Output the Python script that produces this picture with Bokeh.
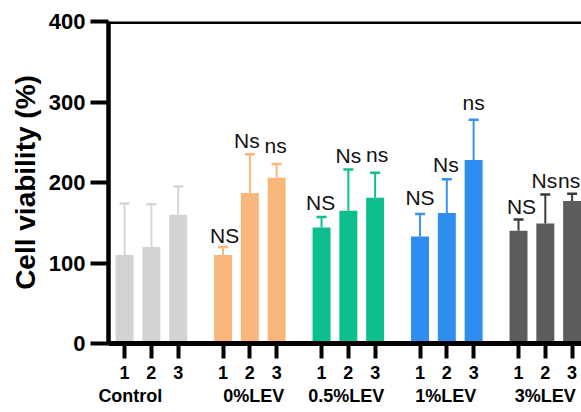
from bokeh.plotting import figure
from bokeh.models import Range1d, FixedTicker, LinearAxis, Span, ColumnDataSource, CustomJSTickFormatter
from bokeh.core.properties import value
from bokeh.embed import file_html
from bokeh.resources import INLINE

# ---- data ----
groups = ["Control", "0%LEV", "0.5%LEV", "1%LEV", "3%LEV"]
bar_names = ["1", "2", "3"]
control_mean = [110, 120, 160]
lev0_mean = [110, 187, 206]
lev05_mean = [144, 165, 181]
lev1_mean = [133, 162, 228]
lev3_mean = [140, 149, 177]
control_sd = [64, 53, 35]
lev0_sd = [10, 48, 17]
lev05_sd = [13, 51, 31]
lev1_sd = [28, 42, 50]
lev3_sd = [14, 36, 9]
control_sig = ["", "", ""]
lev0_sig = ["NS", "Ns", "ns"]
lev05_sig = ["NS", "Ns", "ns"]
lev1_sig = ["NS", "Ns", "ns"]
lev3_sig = ["NS", "Ns", "ns"]
y_ticks = [0, 100, 200, 300, 400]

means = [control_mean, lev0_mean, lev05_mean, lev1_mean, lev3_mean]
sds = [control_sd, lev0_sd, lev05_sd, lev1_sd, lev3_sd]
sigs = [control_sig, lev0_sig, lev05_sig, lev1_sig, lev3_sig]

# ---- styles ----
bar_colors = ["#D3D3D3", "#F9B77C", "#0BC08D", "#2E8DEF", "#5C5C5C"]
err_colors = ["#D6D6D6", "#F9B77C", "#0BC08D", "#3A93EF", "#3A3A3A"]
group_label_shift_px = [-21, 4, -2, -1, 0]   # px nudges of the group names
sig_dx_px = [[0, 0, 0], [1.5, -3, -1], [-1, 0, 2], [0, -1, 0], [3, -1, -3]]
sig_gap_px = [[0, 0, 0], [6, 9, 13], [10, 9, 13], [11, 10, 12], [8, 9, 8]]
FONT = "Liberation Sans"
GROUP_STEP = 3.675
X_START, X_END = -0.6, 17.05
PLOT_W, LEFT = 581, 108
PX_PER_UNIT = (PLOT_W - LEFT) / (X_END - X_START)

xs, tops, uppers, fills, ecols, texts, tick_labels, dxs, dys = [], [], [], [], [], [], [], [], []
for g in range(len(groups)):
    for j in range(3):
        xs.append(g * GROUP_STEP + j)
        tops.append(means[g][j])
        uppers.append(means[g][j] + sds[g][j])
        fills.append(bar_colors[g])
        ecols.append(err_colors[g])
        texts.append(sigs[g][j])
        tick_labels.append(bar_names[j])
        dxs.append(sig_dx_px[g][j])
        dys.append(-(sig_gap_px[g][j] + 5))
group_anchor = [g * GROUP_STEP + 1 + group_label_shift_px[g] / PX_PER_UNIT for g in range(len(groups))]

src = ColumnDataSource(dict(x=xs, top=tops, upper=uppers, fill=fills, ecol=ecols, sig=texts, dx=dxs, dy=dys))

p = figure(width=PLOT_W, height=412, output_backend="svg", toolbar_location=None,
           x_range=Range1d(X_START, X_END), y_range=Range1d(0, 400),
           min_border_left=LEFT, min_border_top=21, min_border_bottom=69, min_border_right=0,
           x_axis_location=None)
p.outline_line_color = None
p.xgrid.visible = False
p.ygrid.visible = False
p.background_fill_color = "white"
p.border_fill_color = "white"

# error bars (behind bars)
p.segment(x0="x", y0="top", x1="x", y1="upper", source=src, line_color="ecol", line_width=2)
p.scatter(x="x", y="upper", source=src, marker="dash", size=10, line_color="ecol", line_width=2.5)
p.vbar(x="x", top="top", bottom=0, width=0.67, source=src, fill_color="fill", line_color=None)

p.text(x="x", y="upper", text="sig", source=src, text_font=value(FONT), text_font_size="21px",
       text_align="center", text_baseline="alphabetic", x_offset="dx", y_offset="dy",
       text_color="#111111")

# top line
p.add_layout(Span(location=400, dimension="width", line_color="black", line_width=5))

# y axis
ya = p.yaxis[0]
ya.ticker = FixedTicker(ticks=y_ticks)
ya.axis_label = "Cell viability (%)"
ya.axis_label_text_font = FONT
ya.axis_label_text_font_size = "28px"
ya.axis_label_text_font_style = "bold"
ya.axis_label_text_color = "black"
ya.axis_label_standoff = 5
ya.major_label_text_font = FONT
ya.major_label_text_font_size = "22px"
ya.major_label_text_font_style = "bold"
ya.major_label_text_color = "black"
ya.major_label_standoff = 5
ya.axis_line_width = 4.5
ya.major_tick_line_width = 4
ya.major_tick_out = 18
ya.major_tick_in = 0
ya.minor_tick_line_color = None
ya.axis_line_color = "black"

# x axis with bar numbers
xa = LinearAxis(ticker=FixedTicker(ticks=xs),
                formatter=CustomJSTickFormatter(args=dict(labels=tick_labels), code="return labels[index];"))
xa.major_label_text_font = FONT
xa.major_label_text_font_size = "18px"
xa.major_label_text_font_style = "bold"
xa.major_label_text_color = "black"
xa.major_label_standoff = 7
xa.axis_line_width = 5
xa.major_tick_line_width = 4
xa.major_tick_out = 15
xa.major_tick_in = 0
xa.minor_tick_line_color = None
p.add_layout(xa, "below")

# x axis with group names
ga = LinearAxis(ticker=FixedTicker(ticks=group_anchor),
                formatter=CustomJSTickFormatter(args=dict(labels=groups), code="return labels[index];"))
ga.major_label_text_font = FONT
ga.major_label_text_font_size = "18px"
ga.major_label_text_font_style = "bold"
ga.major_label_text_color = "black"
ga.major_label_standoff = 4
ga.axis_line_color = None
ga.major_tick_line_color = None
ga.major_tick_out = 0
ga.major_tick_in = 0
ga.minor_tick_line_color = None
p.add_layout(ga, "below")

open("out.html", "w").write(file_html(p, INLINE))
